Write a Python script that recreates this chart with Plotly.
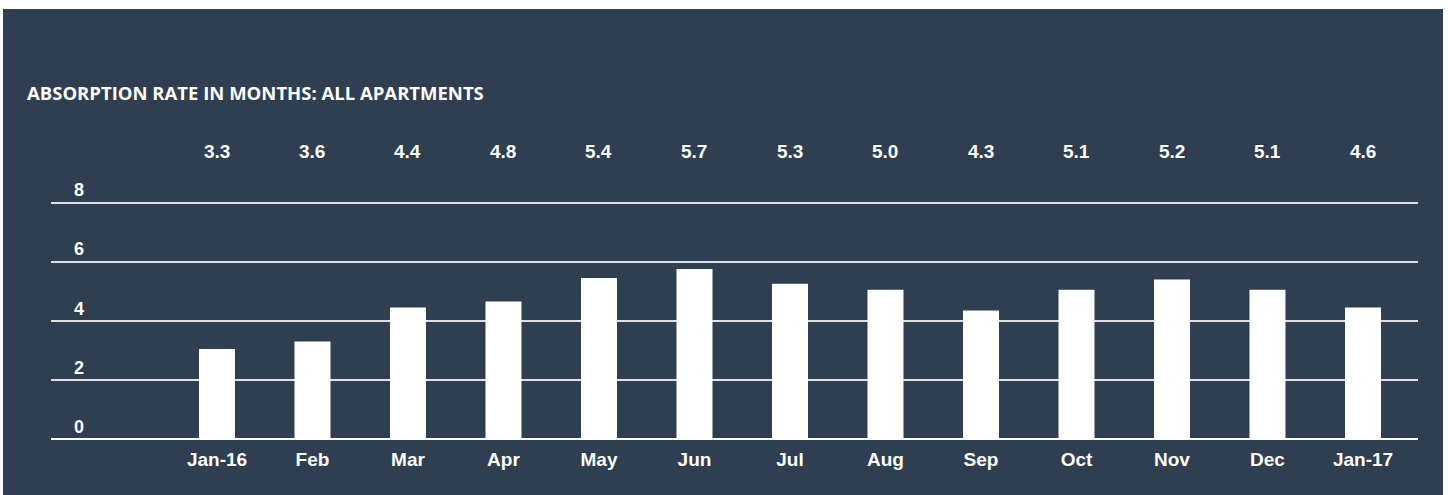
import plotly.graph_objects as go

months = ["Jan-16", "Feb", "Mar", "Apr", "May", "Jun", "Jul", "Aug", "Sep", "Oct", "Nov", "Dec", "Jan-17"]
bar_heights = [3.05, 3.3, 4.45, 4.65, 5.45, 5.75, 5.25, 5.05, 4.35, 5.05, 5.4, 5.05, 4.45]
value_labels = ["3.3", "3.6", "4.4", "4.8", "5.4", "5.7", "5.3", "5.0", "4.3", "5.1", "5.2", "5.1", "4.6"]
y_ticks = [0, 2, 4, 6, 8]

BG = "#2f3e50"
FONT = "Liberation Sans, Arial, sans-serif"

W, H = 1448, 495
ML, MR, MT, MB = 51, 30, 173, 53
PW, PH = W - ML - MR, H - MT - MB

fig = go.Figure()
fig.add_trace(go.Bar(
    x=list(range(len(months))),
    y=bar_heights,
    marker=dict(color="#ffffff", line=dict(width=0)),
    hoverinfo="skip",
))

for i, lab in enumerate(value_labels):
    fig.add_annotation(
        x=i, xref="x", y=(H - MB - 151) / PH, yref="paper",
        text="<b>%s</b>" % lab, showarrow=False,
        font=dict(family=FONT, size=19, color="#ffffff"),
        xanchor="center", yanchor="middle",
    )

fig.add_shape(
    type="rect", xref="paper", yref="paper",
    x0=(3 - ML) / PW, x1=(1443 - ML) / PW,
    y0=-MB / PH, y1=(H - MB - 9) / PH,
    fillcolor=BG, line=dict(width=0), layer="below",
)

fig.update_layout(
    width=W, height=H,
    margin=dict(l=ML, r=MR, t=MT, b=MB),
    paper_bgcolor="#ffffff",
    plot_bgcolor="rgba(0,0,0,0)",
    showlegend=False,
    bargap=0.623,
    title=dict(
        text="<b>ABSORPTION RATE IN MONTHS: ALL APARTMENTS</b>",
        font=dict(family="Open Sans, sans-serif", size=18.5, color="#ffffff"),
        x=27 / W, xanchor="left", xref="container",
        y=1 - 94 / H, yanchor="middle", yref="container",
    ),
    xaxis=dict(
        range=[-1.738, 12.576],
        tickmode="array",
        tickvals=list(range(len(months))),
        ticktext=["<b>%s</b>" % m for m in months],
        tickfont=dict(family=FONT, size=19, color="#ffffff"),
        ticklabelstandoff=4,
        showgrid=False, zeroline=False, showline=False,
        ticks="",
        fixedrange=True,
    ),
    yaxis=dict(
        range=[-0.1, 9.0],
        tickmode="array",
        tickvals=y_ticks,
        ticktext=["<b>%d</b>" % v for v in y_ticks],
        tickfont=dict(family=FONT, size=18, color="#ffffff"),
        ticklabelposition="inside top",
        ticklabelstandoff=20,
        showgrid=True, gridcolor="#dde0e4", gridwidth=1.5,
        zeroline=True, zerolinecolor="#ffffff", zerolinewidth=1.5,
        showline=False, ticks="",
        fixedrange=True,
    ),
)

fig.write_html("out.html", config={"displayModeBar": False},
               post_script="document.body.style.margin='0';")
